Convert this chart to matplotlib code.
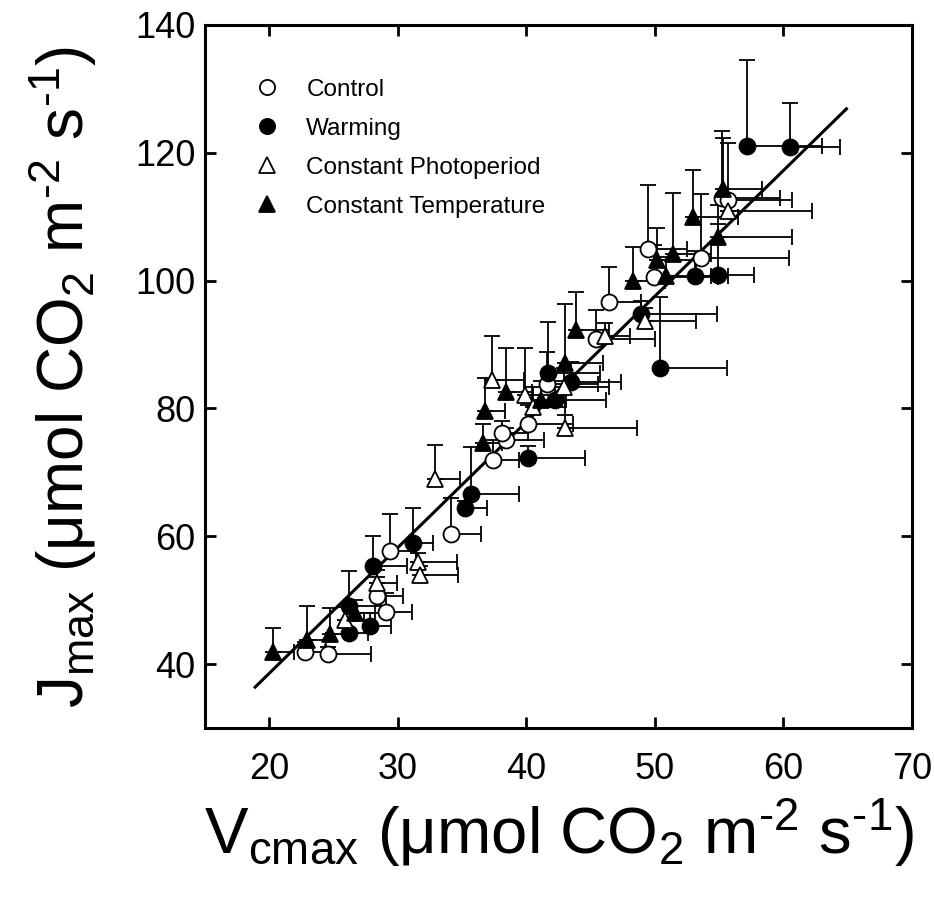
import matplotlib
matplotlib.use("Agg")
import matplotlib.pyplot as plt
import numpy as np

plt.rcParams['font.family'] = ['Liberation Sans', 'DejaVu Sans']
plt.rcParams['mathtext.default'] = 'regular'

# ---- data ----
ctrl_x = [22.8, 24.6, 28.4, 29.1, 29.4, 34.1, 37.4, 38.4, 38.1, 40.1, 41.6, 45.4, 46.4, 49.5, 49.9, 53.6, 55.2, 55.7]
ctrl_y = [41.9, 41.6, 50.7, 48.2, 57.7, 60.4, 72.0, 75.0, 76.1, 77.5, 83.9, 90.8, 96.6, 104.9, 100.6, 103.6, 112.9, 112.6]
ctrl_xe = [1.5, 3.3, 2.0, 2.0, 2.0, 2.4, 2.0, 3.0, 2.0, 3.5, 4.0, 4.6, 2.5, 3.0, 5.0, 6.8, 4.5, 5.0]
ctrl_ye = [1.5, 1.0, 3.0, 3.0, 5.8, 5.6, 3.0, 2.0, 2.0, 3.0, 5.0, 4.6, 5.6, 10.0, 5.0, 10.0, 10.5, 9.0]

warm_x = [26.2, 27.8, 26.2, 28.1, 31.2, 35.2, 35.7, 40.1, 41.7, 42.2, 43.5, 48.9, 50.4, 53.1, 54.9, 57.2, 60.5]
warm_y = [44.8, 46.0, 49.1, 55.4, 59.0, 64.5, 66.6, 72.2, 85.5, 81.3, 84.2, 94.8, 86.4, 100.7, 100.9, 121.0, 120.9]
warm_xe = [1.5, 1.7, 2.5, 2.6, 1.5, 1.7, 3.7, 4.5, 4.0, 4.0, 3.9, 5.9, 5.2, 2.6, 2.8, 5.8, 3.9]
warm_ye = [2.0, 2.0, 5.4, 4.6, 5.5, 1.0, 7.4, 2.0, 8.0, 3.0, 3.0, 2.0, 11.1, 4.0, 8.0, 13.5, 6.9]

photo_x = [25.9, 28.4, 31.6, 31.7, 32.9, 37.3, 39.9, 40.5, 43.0, 42.9, 46.1, 49.2, 55.7]
photo_y = [46.9, 52.7, 55.9, 53.9, 69.0, 84.4, 82.1, 80.3, 77.0, 83.4, 91.4, 93.7, 110.9]
photo_xe = [1.5, 1.5, 3.0, 3.0, 1.9, 2.5, 3.0, 2.5, 5.6, 3.5, 2.0, 4.0, 6.5]
photo_ye = [2.0, 2.0, 1.5, 1.5, 5.3, 7.0, 7.4, 3.0, 2.0, 3.0, 2.0, 2.0, 2.0]

temp_x = [20.3, 22.9, 24.7, 26.7, 36.6, 36.8, 38.4, 41.1, 43.0, 43.9, 48.3, 50.2, 51.4, 50.9, 53.0, 54.9, 55.3]
temp_y = [41.9, 43.8, 44.7, 48.0, 74.6, 79.6, 82.5, 81.3, 87.1, 92.3, 100.0, 103.3, 104.2, 100.7, 109.9, 106.9, 114.3]
temp_xe = [1.6, 1.5, 1.5, 1.5, 1.5, 1.5, 2.0, 2.0, 3.0, 2.5, 2.5, 3.0, 3.0, 3.5, 3.5, 5.8, 3.0]
temp_ye = [3.8, 5.3, 4.0, 2.0, 3.0, 5.2, 7.0, 3.0, 9.3, 6.0, 5.3, 5.0, 9.5, 3.0, 7.4, 5.0, 8.0]

fit_slope = 1.967
fit_intercept = -0.78
fit_x = [18.9, 64.9]

x_ticks = [20, 30, 40, 50, 60, 70]
y_ticks = [40, 60, 80, 100, 120, 140]

# ---- figure ----
fig = plt.figure(figsize=(9.34, 8.97), dpi=100)
ax = fig.add_axes([205/934, 1 - 728/897, (912-205)/934, (728-25)/897])

fx = np.array(fit_x)
ax.plot(fx, fit_slope * fx + fit_intercept, color='black', lw=2.2, zorder=2)

groups = [
    (ctrl_x, ctrl_y, ctrl_xe, ctrl_ye, 'o', 'white', 'Control'),
    (warm_x, warm_y, warm_xe, warm_ye, 'o', 'black', 'Warming'),
    (photo_x, photo_y, photo_xe, photo_ye, '^', 'white', 'Constant Photoperiod'),
    (temp_x, temp_y, temp_xe, temp_ye, '^', 'black', 'Constant Temperature'),
]

handles = []
for gx, gy, gxe, gye, mk, fc, lab in groups:
    z = np.zeros(len(gx))
    ax.errorbar(gx, gy, xerr=[z, gxe], yerr=[z, gye], fmt='none',
                ecolor='black', elinewidth=1.3, capsize=5.5, capthick=1.3, zorder=1)
for gx, gy, gxe, gye, mk, fc, lab in groups:
    ms = 11.5 if mk == 'o' else 12
    h, = ax.plot(gx, gy, linestyle='none', marker=mk, markersize=ms,
                 markerfacecolor=fc, markeredgecolor='black', markeredgewidth=1.3,
                 zorder=3, label=lab)
    handles.append(h)

ax.set_xlim(15, 70)
ax.set_ylim(30, 140)
ax.set_xticks(x_ticks)
ax.set_yticks(y_ticks)
ax.tick_params(direction='in', length=8, width=2, top=True, right=True,
               labelsize=26)
ax.tick_params(axis='x', pad=17)
ax.tick_params(axis='y', pad=7)
for s in ax.spines.values():
    s.set_linewidth(2.2)

hy = '\u2010'
ax.set_xlabel('V$_{cmax}$ (\u03bcmol CO$_2$ m$^{' + hy + '2}$ s$^{' + hy + '1}$)',
              fontsize=47, labelpad=7)
ax.set_ylabel('J$_{max}$ (\u03bcmol CO$_2$ m$^{' + hy + '2}$ s$^{' + hy + '1}$)',
              fontsize=46, labelpad=26)

leg = ax.legend(handles=handles, loc='upper left', bbox_to_anchor=(0.023, 0.955),
                frameon=False, fontsize=17.5, handletextpad=0.6, labelspacing=0.7,
                markerscale=0.95)

fig.savefig('out.png', dpi=100)
